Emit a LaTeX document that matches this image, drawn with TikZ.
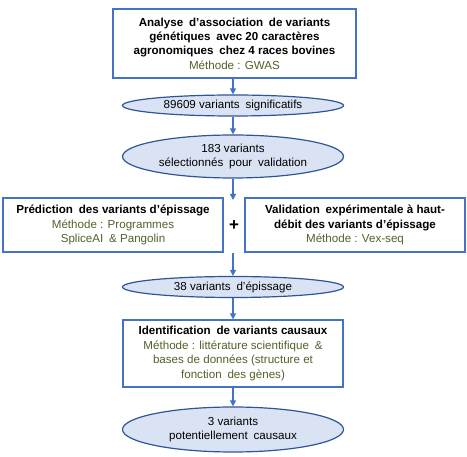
\documentclass[tikz,border=0pt]{standalone}
\usepackage{fontspec}
\setmainfont{Liberation Sans}
\usetikzlibrary{shapes.geometric,arrows.meta}
\definecolor{boxblue}{HTML}{4472C4}
\definecolor{ellline}{HTML}{2F5597}
\definecolor{ellfill}{HTML}{DAE3F3}
\definecolor{methgreen}{HTML}{4F6228}
\newcommand{\ws}{\hspace{0.5em}}
\begin{document}
\begin{tikzpicture}[x=1pt,y=1pt,
  box/.style={draw=boxblue,line width=1.2pt,rectangle,align=center,inner sep=0pt,
    font=\fontsize{11.6}{14.4}\selectfont},
  oval/.style={draw=ellline,fill=ellfill,line width=1.2pt,ellipse,inner sep=0pt,
    align=center,font=\fontsize{11.6}{14.4}\selectfont},
  conn/.style={draw=boxblue,line width=1.2pt,-{Triangle[length=6pt,width=6pt]}},
  plain/.style={draw=boxblue,line width=1.2pt}]
\useasboundingbox (0,0) rectangle (467,-457);
\node[box,minimum width=243,minimum height=69] (top) at (234.5,-43.5)
  {\textbf{Analyse\ws d’association\ws de variants}\\\textbf{génétiques\ws avec 20 caractères}\\\textbf{agronomiques\ws chez 4 races bovines}\\\textcolor{methgreen}{Méthode : GWAS}};
\node[oval,minimum width=221,minimum height=21] (e1) at (233,-105.5) {89609 variants\ws significatifs};
\node[oval,minimum width=221,minimum height=43] (e2) at (233,-156.5) {183 variants\\sélectionnés\ws pour\ws validation};
\node[box,minimum width=220,minimum height=54] (lb) at (113,-225)
  {\textbf{Prédiction\ws des variants d’épissage}\\\textcolor{methgreen}{Méthode : Programmes}\\\textcolor{methgreen}{SpliceAI\ws \& Pangolin}};
\node[box,minimum width=220,minimum height=54] (rb) at (355,-225)
  {\textbf{Validation\ws expérimentale à haut-}\\\textbf{débit des variants d’épissage}\\\textcolor{methgreen}{Méthode : Vex-seq}};
\node[font=\fontsize{17}{17}\selectfont\bfseries] (plus) at (234,-226) {+};
\coordinate (jin) at (233,-200);
\coordinate (jout) at (233,-253);
\node[oval,minimum width=221,minimum height=21] (e3) at (233,-287) {38 variants\ws d’épissage};
\node[box,minimum width=220,minimum height=67] (b4) at (233,-353.5)
  {\textbf{Identification\ws de variants causaux}\\\textcolor{methgreen}{Méthode : littérature scientifique\ws \&}\\\textcolor{methgreen}{bases de données (structure et}\\\textcolor{methgreen}{fonction\ws des gènes)}};
\node[oval,minimum width=221,minimum height=45] (e4) at (233,-429.5) {3 variants\\potentiellement\ws causaux};
\draw[conn] (top.south -| e1.north) -- (e1.north);
\draw[conn] (e1) -- (e2);
\draw[conn] (e2.south) -- (jin);
\draw[conn] (jout) -- (e3.north);
\draw[conn] (e3) -- (b4);
\draw[conn] (b4) -- (e4);
\end{tikzpicture}
\end{document}
